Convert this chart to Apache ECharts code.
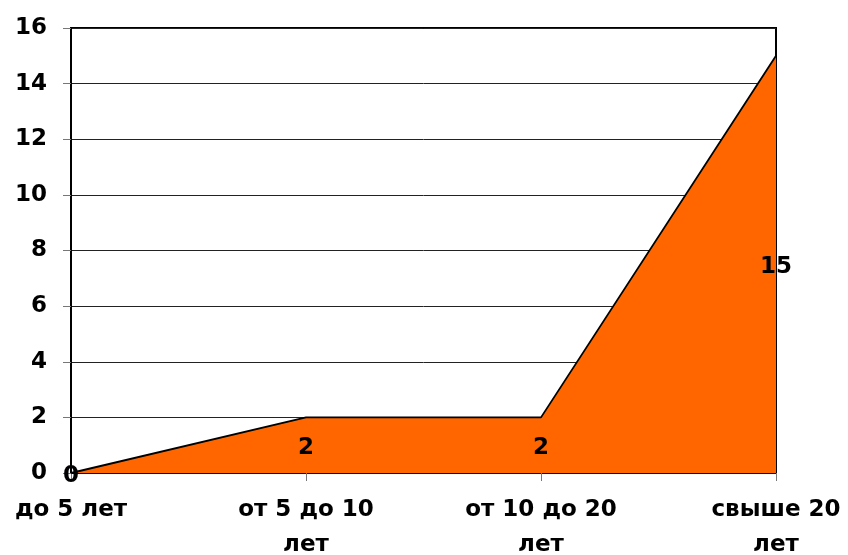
<!DOCTYPE html>
<html><head><meta charset="utf-8">
<script src="https://cdn.jsdelivr.net/npm/echarts@6/dist/echarts.min.js"></script>
<style>html,body{margin:0;padding:0;background:#fff}#c{width:848px;height:555px}</style>
</head><body><div id="c"></div>
<script>
const categories = ['до 5 лет', 'от 5 до 10 лет', 'от 10 до 20 лет', 'свыше 20 лет'];
const tickLabels = ['до 5 лет', 'от 5 до 10\nлет', 'от 10 до 20\nлет', 'свыше 20\nлет'];
const values = [0, 2, 2, 15];
const yTicks = { min: 0, max: 16, interval: 2 };

const FONT = '"DejaVu Sans", sans-serif';
const chart = echarts.init(document.getElementById('c'));
chart.setOption({
  animation: false,
  grid: { left: 71, right: 72, top: 28, bottom: 82, containLabel: false, outerBoundsMode: 'none',
          show: true, borderColor: '#000', borderWidth: 2, backgroundColor: 'transparent' },
  xAxis: {
    type: 'category', data: categories, boundaryGap: false,
    axisLine: { lineStyle: { color: '#000', width: 2 } },
    axisTick: { show: true, length: 8, lineStyle: { color: '#777', width: 1 } },
    axisLabel: {
      interval: 0, margin: 20, color: '#000', fontFamily: FONT, fontWeight: 'bold', fontSize: 23, lineHeight: 35,
      hideOverlap: false,
      formatter: (v, i) => tickLabels[i]
    },
    splitLine: { show: false }
  },
  yAxis: {
    type: 'value', min: yTicks.min, max: yTicks.max, interval: yTicks.interval,
    axisLine: { show: true, lineStyle: { color: '#000', width: 2 } },
    axisTick: { show: true, length: 8, lineStyle: { color: '#777', width: 1 } },
    axisLabel: { margin: 24, color: '#000', fontFamily: FONT, fontWeight: 'bold', fontSize: 23 },
    splitLine: { lineStyle: { color: '#222', width: 1 } }
  },
  series: [
    {
      type: 'line', data: values, symbol: 'none',
      lineStyle: { color: '#000', width: 1.8 },
      areaStyle: { color: '#FF6600', opacity: 1 },
      z: 2
    },
    {
      type: 'bar', data: values, barWidth: 1, barGap: '-100%',
      itemStyle: { color: 'rgba(0,0,0,0)' },
      label: { show: true, position: 'inside', offset: [0, 3], color: '#000', fontFamily: FONT, fontWeight: 'bold', fontSize: 23 },
      z: 5
    }
  ]
});
</script></body></html>
